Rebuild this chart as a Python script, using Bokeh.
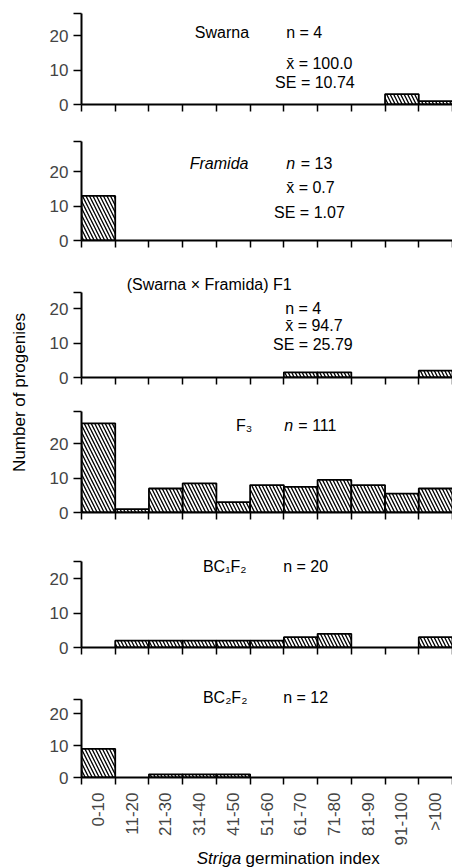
import math
from bokeh.plotting import figure
from bokeh.layouts import column, row
from bokeh.models import FixedTicker, Range1d, LinearAxis
from bokeh.core.properties import value
from bokeh.embed import file_html
from bokeh.resources import INLINE

# ---------------- data ----------------
bins = ["0-10", "11-20", "21-30", "31-40", "41-50", "51-60",
        "61-70", "71-80", "81-90", "91-100", ">100"]
swarna = [0, 0, 0, 0, 0, 0, 0, 0, 0, 3, 1]
framida = [13, 0, 0, 0, 0, 0, 0, 0, 0, 0, 0]
f1 = [0, 0, 0, 0, 0, 0, 1.5, 1.5, 0, 0, 2]
f3 = [26, 1, 7, 8.5, 3, 8, 7.5, 9.5, 8, 5.5, 7]
bc1f2 = [0, 2, 2, 2, 2, 2, 3, 4, 0, 0, 3]
bc2f2 = [9, 0, 1, 1, 1, 0, 0, 0, 0, 0, 0]
y_ticks = [0, 10, 20]

FONT_NAME = "Liberation Sans"
FONT = value(FONT_NAME)
FS = "16px"
TFS = "17px"
PXU = 3.43            # pixels per count unit
XEND = 11.0
LEFT_W = 36
PANEL_W = 416
BL = 45
# frame tops (S) and zero lines (B) in page pixels
S = [0, 122, 258, 395, 532, 670]
B = [104, 240, 377, 512, 647, 785]
LAST_BOTTOM = 63
XLAB_H = 19
axis_tops = [26.4, 29.0, 24.9, 29.5, 25.0, 24.5]

# annotations: (text, x, y, style, align)
panels = [
    (swarna, [("Swarna", 3.36, 20.9, "normal", "left"),
              ("n = 4", 6.07, 20.9, "normal", "left"),
              ("x\u0304 = 100.0", 6.07, 11.9, "normal", "left"),
              ("SE = 10.74", 5.74, 6.4, "normal", "left")]),
    (framida, [("Framida", 3.21, 22.5, "italic", "left"),
               ("n", 6.07, 22.5, "italic", "left"),
               ("= 13", 6.5, 22.5, "normal", "left"),
               ("x\u0304 = 0.7", 6.07, 15.5, "normal", "left"),
               ("SE = 1.07", 5.71, 8.3, "normal", "left")]),
    (f1, [("(Swarna \u00d7 Framida) F1", 1.34, 27.1, "normal", "left"),
          ("n = 4", 6.04, 20.0, "normal", "left"),
          ("x\u0304 = 94.7", 6.04, 15.2, "normal", "left"),
          ("SE = 25.79", 5.68, 9.6, "normal", "left")]),
    (f3, [("F\u2083", 4.58, 25.5, "normal", "left"),
          ("n", 6.01, 25.5, "italic", "left"),
          ("= 111", 6.43, 25.5, "normal", "left")]),
    (bc1f2, [("BC\u2081F\u2082", 3.6, 23.6, "normal", "left"),
             ("n = 20", 5.98, 23.6, "normal", "left")]),
    (bc2f2, [("BC\u2082F\u2082", 3.6, 25.2, "normal", "left"),
             ("n = 12", 5.98, 25.2, "normal", "left")]),
]

centers = [i + 0.5 for i in range(len(bins))]
edges = list(range(len(bins) + 1))

figs = []
for k, (vals, notes) in enumerate(panels):
    last = (k == len(panels) - 1)
    frame_h = B[k] - S[k]
    bottom = LAST_BOTTOM if last else (S[k + 1] - B[k])
    p = figure(width=PANEL_W, height=frame_h + bottom,
               x_range=Range1d(0, XEND), y_range=Range1d(0, frame_h / PXU),
               output_backend="svg", toolbar_location=None,
               min_border_left=BL, min_border_right=0, min_border_top=0,
               min_border_bottom=bottom, x_axis_type=None, y_axis_type=None)
    p.outline_line_color = None
    p.xgrid.visible = False
    p.ygrid.visible = False

    xs = [c for c, v in zip(centers, vals) if v > 0]
    ts = [v for v in vals if v > 0]
    p.vbar(x=xs, top=ts, width=1, bottom=0, fill_color="white",
           line_color="black", line_width=1.8,
           hatch_pattern="\\", hatch_scale=7, hatch_weight=1.3,
           hatch_color="black")

    for (t, x, y, style, align) in notes:
        p.text(x=[x], y=[y], text=[t], text_font=FONT, text_font_size=FS,
               text_font_style=style, text_align=align,
               text_baseline="middle", text_color="black")

    top = axis_tops[k]
    yax = LinearAxis(ticker=FixedTicker(ticks=y_ticks, minor_ticks=[top]),
                     bounds=(0, top), axis_line_width=2,
                     major_tick_out=8, major_tick_in=0,
                     minor_tick_out=8, minor_tick_in=0,
                     major_tick_line_width=1.5, minor_tick_line_width=1.5,
                     major_label_text_font=FONT_NAME,
                     major_label_text_font_size=TFS,
                     major_label_standoff=5)
    p.add_layout(yax, "left")

    if last:
        overrides = {c: b for c, b in zip(centers, bins)}
        fs = TFS
    else:
        overrides = {c: "" for c in centers}
        fs = "0px"
    xax = LinearAxis(ticker=FixedTicker(ticks=centers, minor_ticks=edges),
                     axis_line_width=2,
                     major_tick_out=0, major_tick_in=0,
                     minor_tick_out=7, minor_tick_in=0,
                     minor_tick_line_width=1.5,
                     major_label_overrides=overrides,
                     major_label_orientation=math.pi / 2,
                     major_label_text_font=FONT_NAME,
                     major_label_text_font_size=fs,
                     major_label_standoff=8)
    p.add_layout(xax, "below")
    figs.append(p)

# x-axis title
xl = figure(width=PANEL_W, height=XLAB_H, x_range=Range1d(0, PANEL_W),
            y_range=Range1d(0, XLAB_H), output_backend="svg",
            toolbar_location=None, min_border=0,
            x_axis_type=None, y_axis_type=None)
xl.outline_line_color = None
xl.xgrid.visible = False
xl.ygrid.visible = False
xl.text(x=[215 - LEFT_W], y=[XLAB_H / 2], text=["Striga"], text_font=FONT,
        text_font_size="17px", text_font_style="italic", text_align="right",
        text_baseline="middle")
xl.text(x=[220 - LEFT_W], y=[XLAB_H / 2], text=["germination index"],
        text_font=FONT, text_font_size="17px", text_align="left",
        text_baseline="middle")

total_h = sum(f.height for f in figs) + XLAB_H
yl = figure(width=LEFT_W, height=total_h, x_range=Range1d(0, LEFT_W),
            y_range=Range1d(0, total_h), output_backend="svg",
            toolbar_location=None, min_border=0,
            x_axis_type=None, y_axis_type=None)
yl.outline_line_color = None
yl.xgrid.visible = False
yl.ygrid.visible = False
yl.text(x=[19], y=[total_h - 392], text=["Number of progenies"],
        text_font=FONT, text_font_size="17px", angle=math.pi / 2,
        text_align="center", text_baseline="middle")

layout = row(yl, column(*figs, xl))
open("out.html", "w").write(file_html(layout, INLINE))
